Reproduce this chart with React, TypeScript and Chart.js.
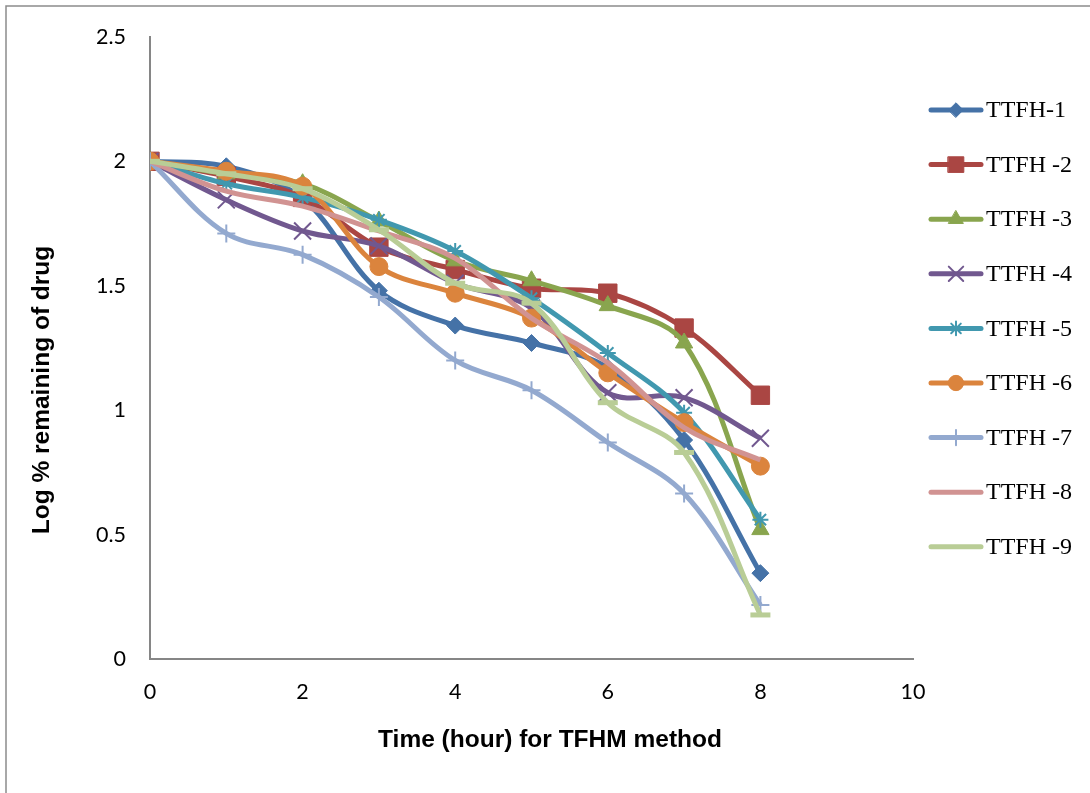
import React, { useEffect, useRef } from "react";
import { Chart, registerables } from "chart.js";
import { drawPoint } from "chart.js/helpers";

Chart.register(...registerables);

const hours = [0, 1, 2, 3, 4, 5, 6, 7, 8];
const seriesNames = ["TTFH-1", "TTFH -2", "TTFH -3", "TTFH -4", "TTFH -5", "TTFH -6", "TTFH -7", "TTFH -8", "TTFH -9"];
const ttfh1 = [2.0, 1.98, 1.85, 1.48, 1.34, 1.27, 1.17, 0.88, 0.345];
const ttfh2 = [2.0, 1.94, 1.855, 1.655, 1.565, 1.49, 1.47, 1.33, 1.06];
const ttfh3 = [2.0, 1.95, 1.91, 1.76, 1.6, 1.52, 1.42, 1.27, 0.52];
const ttfh4 = [2.0, 1.845, 1.72, 1.66, 1.51, 1.41, 1.07, 1.05, 0.887];
const ttfh5 = [2.0, 1.91, 1.855, 1.765, 1.64, 1.45, 1.23, 0.99, 0.56];
const ttfh6 = [2.0, 1.96, 1.9, 1.577, 1.47, 1.37, 1.15, 0.95, 0.775];
const ttfh7 = [2.0, 1.71, 1.625, 1.455, 1.2, 1.08, 0.87, 0.665, 0.217];
const ttfh8 = [2.0, 1.88, 1.82, 1.72, 1.61, 1.37, 1.19, 0.93, 0.8];
const ttfh9 = [2.0, 1.95, 1.89, 1.725, 1.51, 1.43, 1.03, 0.83, 0.177];
const allSeries = [ttfh1, ttfh2, ttfh3, ttfh4, ttfh5, ttfh6, ttfh7, ttfh8, ttfh9];

const xTickValues = [0, 2, 4, 6, 8, 10];
const xTickLabels = ["0", "2", "4", "6", "8", "10"];
const yTickValues = [0, 0.5, 1, 1.5, 2, 2.5];
const yTickLabels = ["0", "0.5", "1", "1.5", "2", "2.5"];

const xTitle = "Time (hour) for TFHM method";
const yTitle = "Log % remaining of drug";

const colors = ["#4572A7", "#AA4643", "#89A54E", "#71588F", "#4198AF", "#DB843D", "#93A9CF", "#D19392", "#B9CD96"];
const pointStyles: any[] = ["rectRot", "rect", "triangle", "crossRot", "star", "circle", "cross", "line", "line"];
const pointRadii = [8.5, 13, 10, 12, 8, 9, 9, 0, 10];
const pointBorderWidths = [1, 1, 1, 2, 2, 1, 2, 0, 5];

const decorPlugin = {
  id: "decor",
  beforeDraw(chart: any) {
    const ctx = chart.ctx;
    ctx.save();
    ctx.strokeStyle = "#8c8c8c";
    ctx.lineWidth = 1.5;
    ctx.beginPath();
    ctx.moveTo(6, 900);
    ctx.lineTo(6, 6);
    ctx.lineTo(1200, 6);
    ctx.stroke();
    ctx.restore();
  },
  afterDraw(chart: any) {
    const ctx = chart.ctx;
    ctx.save();
    ctx.fillStyle = "#000";
    ctx.font = "bold 24.5px 'Liberation Sans', Arial, sans-serif";
    ctx.textAlign = "center";
    ctx.textBaseline = "middle";
    ctx.fillText(xTitle, 550, 740);
    ctx.translate(42, 390);
    ctx.rotate(-Math.PI / 2);
    ctx.fillText(yTitle, 0, 0);
    ctx.restore();

    ctx.save();
    chart.data.datasets.forEach((ds: any, i: number) => {
      const y = 110 + i * 54.6;
      ctx.strokeStyle = ds.borderColor;
      ctx.lineWidth = 5;
      ctx.lineCap = "round";
      ctx.beginPath();
      ctx.moveTo(931, y);
      ctx.lineTo(981, y);
      ctx.stroke();
      const r = ds.pointRadius;
      if (r > 0 && ds.pointStyle !== "line") {
        ctx.fillStyle = ds.borderColor;
        ctx.strokeStyle = ds.borderColor;
        ctx.lineWidth = ds.pointBorderWidth;
        drawPoint(ctx, { pointStyle: ds.pointStyle, radius: r * 0.85, borderWidth: ds.pointBorderWidth, rotation: 0 } as any, 956, y);
      }
      ctx.fillStyle = "#000";
      ctx.font = "24px 'Liberation Serif', 'Times New Roman', serif";
      ctx.textAlign = "left";
      ctx.textBaseline = "middle";
      ctx.fillText(ds.label, 986, y + 1);
    });
    ctx.restore();
  },
};

export default function App() {
  const canvasRef = useRef<HTMLCanvasElement | null>(null);

  useEffect(() => {
    if (!canvasRef.current) return;
    const datasets = allSeries.map((vals, i) => ({
      label: seriesNames[i],
      data: hours.map((h, j) => ({ x: h, y: vals[j] })),
      borderColor: colors[i],
      backgroundColor: colors[i],
      borderWidth: 5,
      pointStyle: pointStyles[i],
      pointRadius: pointRadii[i],
      pointHoverRadius: pointRadii[i],
      pointBorderWidth: pointBorderWidths[i],
      pointBackgroundColor: colors[i],
      pointBorderColor: colors[i],
      tension: 0.35,
      fill: false,
      order: 9 - i,
    }));

    const chart = new Chart(canvasRef.current, {
      type: "line",
      data: { datasets },
      plugins: [decorPlugin],
      options: {
        responsive: false,
        animation: false,
        layout: { padding: { top: 36, right: 177, bottom: 0, left: 0 } },
        plugins: { legend: { display: false }, tooltip: { enabled: false } },
        scales: {
          x: {
            type: "linear",
            min: 0,
            max: 10,
            afterBuildTicks: (s: any) => {
              s.ticks = xTickValues.map((v) => ({ value: v }));
            },
            afterFit: (s: any) => {
              s.height = 134;
            },
            grid: { display: false, drawTicks: false },
            border: { display: true, color: "#868686", width: 2 },
            ticks: {
              padding: 20,
              color: "#000",
              font: { family: "Lato, 'Open Sans', sans-serif", size: 21.5 },
              callback: (v: any) => xTickLabels[xTickValues.indexOf(Number(v))] ?? "",
            },
          },
          y: {
            type: "linear",
            min: 0,
            max: 2.5,
            afterBuildTicks: (s: any) => {
              s.ticks = yTickValues.map((v) => ({ value: v }));
            },
            afterFit: (s: any) => {
              s.width = 150;
            },
            grid: { display: false, drawTicks: false },
            border: { display: true, color: "#868686", width: 2 },
            ticks: {
              padding: 24,
              color: "#000",
              font: { family: "Lato, 'Open Sans', sans-serif", size: 21.5 },
              callback: (v: any) => yTickLabels[yTickValues.indexOf(Number(v))] ?? "",
            },
          },
        },
      } as any,
    });
    return () => chart.destroy();
  }, []);

  return (
    <div style={{ position: "fixed", left: 0, top: 0, width: 1090, height: 793, background: "#fff" }}>
      <canvas ref={canvasRef} width={1090} height={793} style={{ display: "block" }} />
    </div>
  );
}
